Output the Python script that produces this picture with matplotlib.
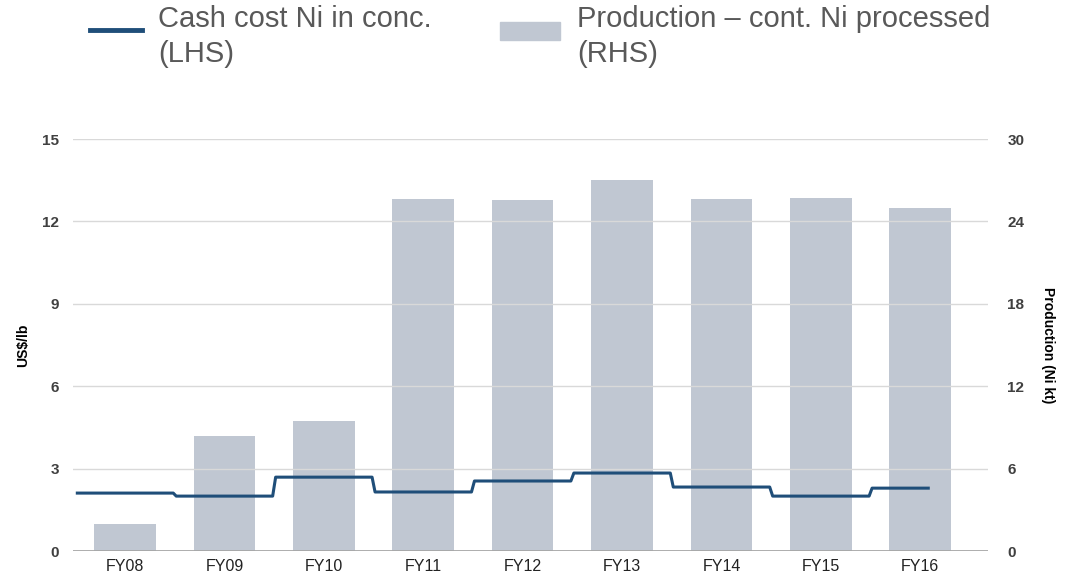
import matplotlib.pyplot as plt
import numpy as np

plt.rcParams['font.family'] = ['Liberation Sans', 'DejaVu Sans']

years = ['FY08', 'FY09', 'FY10', 'FY11', 'FY12', 'FY13', 'FY14', 'FY15', 'FY16']
production = [2.0, 8.4, 9.5, 25.6, 25.55, 27.0, 25.6, 25.7, 25.0]   # Ni kt (RHS)
cash_cost = [2.11, 2.0, 2.69, 2.15, 2.55, 2.84, 2.33, 2.0, 2.29]     # US$/lb (LHS)

line_col = '#1f4e79'
bar_col = '#c0c7d2'
text_col = '#404040'

fig = plt.figure(figsize=(10.68, 5.77), dpi=100)
ax = fig.add_axes([0.0684, 0.045, 0.8566, 0.714])
ax2 = ax.twinx()

x = np.arange(len(years))

# bars on the right-hand axis, drawn behind the cost line
ax2.bar(x, production, width=0.62, color=bar_col, zorder=2)
ax2.set_ylim(0, 30)
ax2.set_yticks([0, 6, 12, 18, 24, 30])

# stepped cost line with slightly slanted risers
d = 0.015
xs, ys = [], []
for i, v in enumerate(cash_cost):
    x0 = -0.48 if i == 0 else i - 0.5 + d
    x1 = i + 0.08 if i == len(cash_cost) - 1 else i + 0.5 - d
    xs += [x0, x1]
    ys += [v, v]
ax.plot(xs, ys, color=line_col, lw=2.2, zorder=5)
ax.set_zorder(ax2.get_zorder() + 1)
ax.patch.set_visible(False)

ax.set_ylim(0, 15)
ax.set_yticks([0, 3, 6, 9, 12, 15])
ax.set_xlim(-0.523, 8.68)
ax.set_xticks(x)
ax.set_xticklabels(years, fontsize=11.5, color='#222222')

for t in [3, 6, 9, 12, 15]:
    ax.axhline(t, color='#d9d9d9', lw=1, zorder=0)
ax.axhline(0, color='#a6a6a6', lw=2, zorder=6)

for a in (ax, ax2):
    for s in a.spines.values():
        s.set_visible(False)
    a.tick_params(length=0)

ax.tick_params(axis='y', labelsize=11, labelcolor=text_col, pad=10)
ax2.tick_params(axis='y', labelsize=11, labelcolor=text_col, pad=14)
ax.tick_params(axis='x', pad=6)
for lab in ax.get_yticklabels() + ax2.get_yticklabels():
    lab.set_fontweight('bold')

ax.set_ylabel('US$/lb', fontsize=10, fontweight='bold', color='black', labelpad=9)
ax2.set_ylabel('Production (Ni kt)', fontsize=10, fontweight='bold', color='black',
               rotation=-90, labelpad=22)

# legend drawn across the top
fig.add_artist(plt.Line2D([90 / 1068, 142 / 1068], [1 - 30 / 577, 1 - 30 / 577],
                          color=line_col, lw=3.5))
fig.add_artist(plt.Rectangle((500 / 1068, 1 - 40 / 577), 60 / 1068, 18 / 577,
                             color=bar_col, transform=fig.transFigure))
fig.text(158 / 1068, 1 - 5 / 577, 'Cash cost Ni in conc.\n(LHS)', fontsize=21,
         color='#595959', va='top', ha='left', linespacing=1.32)
fig.text(577 / 1068, 1 - 5 / 577, 'Production \u2013 cont. Ni processed\n(RHS)', fontsize=21,
         color='#595959', va='top', ha='left', linespacing=1.32)

fig.savefig('out.png', dpi=100)
